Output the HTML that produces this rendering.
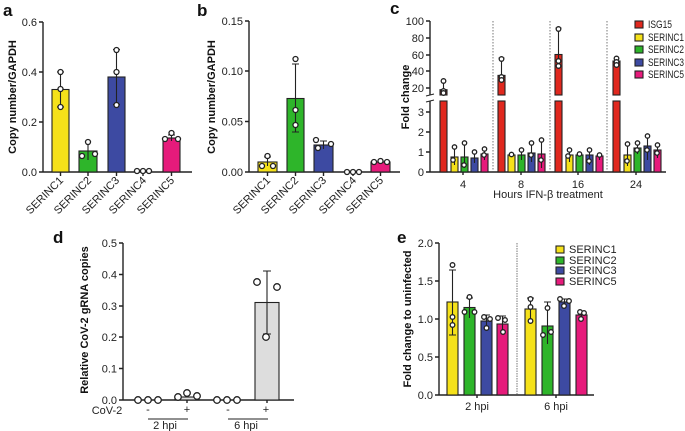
<!DOCTYPE html>
<html><head><meta charset="utf-8"><style>
body{margin:0;background:#fff}
svg{display:block;font-family:"Liberation Sans",Arial,sans-serif}
.t{font-size:11px;fill:#222}
.L{font-size:17px;font-weight:bold;fill:#111}
.yl{font-size:11px;font-weight:bold;fill:#111}
.ax{stroke:#222;stroke-width:1.4;fill:none}
.b{stroke:#222;stroke-width:1.1}
.e{stroke:#222;stroke-width:1.1;fill:none}
circle{fill:#fff;stroke:#222;stroke-width:1.3}
</style></head><body>
<svg width="685" height="431" viewBox="0 0 685 431">
<!-- Panel a -->
<text class="L" x="3" y="16">a</text>
<path class="ax" d="M43,22V172H192M39,22H43M39,72H43M39,122H43M39,172H43M60.5,172v4M88,172v4M116.5,172v4M143,172v4M171.5,172v4"/>
<g class="t" text-anchor="end"><text x="37" y="26">0.6</text><text x="37" y="76">0.4</text><text x="37" y="126">0.2</text><text x="37" y="176">0.0</text></g>
<text class="yl" transform="translate(16,97) rotate(-90)" text-anchor="middle">Copy number/GAPDH</text>
<rect class="b" x="52" y="89.5" width="17" height="82.5" fill="#f5e11a"/>
<rect class="b" x="79" y="151" width="18" height="21" fill="#2eb52a"/>
<rect class="b" x="108" y="77" width="17" height="95" fill="#3d4aa2"/>
<rect class="b" x="163" y="138" width="17" height="34" fill="#e61b7b"/>
<path class="e" d="M60.5,72V107M57,72h7M57,107h7M88,142V160M85,142h6M116.5,49.5V104.5M113,49.5h7M113,104.5h7M171.5,135V141M168,135h7"/>
<circle cx="60.5" cy="72" r="2.5"/><circle cx="60.5" cy="89" r="2.5"/><circle cx="60.5" cy="107" r="2.5"/>
<circle cx="88" cy="142" r="2.5"/><circle cx="82" cy="156" r="2.5"/><circle cx="95" cy="154" r="2.5"/>
<circle cx="116.5" cy="50" r="2.5"/><circle cx="116.5" cy="72" r="2.5"/><circle cx="116.5" cy="105" r="2.5"/>
<circle cx="137" cy="171" r="2.5"/><circle cx="143" cy="171" r="2.5"/><circle cx="149" cy="171" r="2.5"/>
<circle cx="171.5" cy="133" r="2.5"/><circle cx="165" cy="139" r="2.5"/><circle cx="178" cy="139" r="2.5"/>
<g class="t" text-anchor="end">
<text transform="translate(64,181) rotate(-45)">SERINC1</text>
<text transform="translate(92,181) rotate(-45)">SERINC2</text>
<text transform="translate(120,181) rotate(-45)">SERINC3</text>
<text transform="translate(147,181) rotate(-45)">SERINC4</text>
<text transform="translate(175,181) rotate(-45)">SERINC5</text></g>

<!-- Panel b -->
<text class="L" x="197" y="16">b</text>
<path class="ax" d="M249,21V172H400M245,21H249M245,71H249M245,121.5H249M245,172H249M267.5,172v4M295.5,172v4M323.5,172v4M353,172v4M380.5,172v4"/>
<g class="t" text-anchor="end"><text x="243" y="25">0.15</text><text x="243" y="75">0.10</text><text x="243" y="125.5">0.05</text><text x="243" y="176">0.00</text></g>
<text class="yl" transform="translate(215,97) rotate(-90)" text-anchor="middle">Copy number/GAPDH</text>
<rect class="b" x="258" y="162" width="19" height="10" fill="#f5e11a"/>
<rect class="b" x="287" y="98.5" width="17" height="73.5" fill="#2eb52a"/>
<rect class="b" x="314" y="145" width="19" height="27" fill="#3d4aa2"/>
<rect class="b" x="371" y="162" width="19" height="10" fill="#e61b7b"/>
<path class="e" d="M267.5,157V166M264,157h7M295.5,64V132M292,64h7M292,132h7M323.5,141V149M320,141h7"/>
<circle cx="267.5" cy="156" r="2.5"/><circle cx="262" cy="166" r="2.5"/><circle cx="273" cy="166" r="2.5"/>
<circle cx="295.5" cy="59" r="2.5"/><circle cx="295.5" cy="110" r="2.5"/><circle cx="295.5" cy="125" r="2.5"/>
<circle cx="316" cy="140" r="2.5"/><circle cx="331" cy="144" r="2.5"/><circle cx="318" cy="148" r="2.5"/>
<circle cx="347" cy="172" r="2.5"/><circle cx="353" cy="172" r="2.5"/><circle cx="359" cy="172" r="2.5"/>
<circle cx="374" cy="162" r="2.5"/><circle cx="380.5" cy="161" r="2.5"/><circle cx="387" cy="162" r="2.5"/>
<g class="t" text-anchor="end">
<text transform="translate(271,181) rotate(-45)">SERINC1</text>
<text transform="translate(299,181) rotate(-45)">SERINC2</text>
<text transform="translate(327,181) rotate(-45)">SERINC3</text>
<text transform="translate(357,181) rotate(-45)">SERINC4</text>
<text transform="translate(384,181) rotate(-45)">SERINC5</text></g>

<!-- Panel c -->
<text class="L" x="390" y="14">c</text>
<path class="ax" d="M430,21V95M430,101V172H666M426,21H430M426,38H430M426,55H430M426,71H430M426,88H430M426,112H430M426,132H430M426,152H430M426,172H430M463,172v3M521,172v3M578,172v3M636,172v3"/>
<path d="M426,96L434,94M426,102L434,100" stroke="#222" stroke-width="1"/>
<g class="t" text-anchor="end" font-size="11.5"><text x="424" y="25">100</text><text x="424" y="42">80</text><text x="424" y="59">60</text><text x="424" y="75">40</text><text x="424" y="92">20</text><text x="424" y="116">3</text><text x="424" y="136">2</text><text x="424" y="156">1</text><text x="424" y="176">0</text></g>
<text class="yl" transform="translate(409,97) rotate(-90)" text-anchor="middle">Fold change</text>
<path d="M493,21V172M550,21V172M607,21V172" stroke="#555" stroke-width="0.8" stroke-dasharray="1.5,1.5"/>
<g class="b" fill="#e0281e">
<rect x="440" y="89.7" width="7" height="5.3"/><rect x="440" y="101" width="7" height="71"/>
<rect x="498" y="75.4" width="7" height="19.6"/><rect x="498" y="101" width="7" height="71"/>
<rect x="555" y="54.5" width="7" height="40.5"/><rect x="555" y="101" width="7" height="71"/>
<rect x="613" y="61" width="7" height="34"/><rect x="613" y="101" width="7" height="71"/>
</g>
<path class="e" d="M443.5,81V93M501.5,58V80M498.5,58h6M558.5,28V66M555.5,28h6M616.5,58V64"/>
<circle cx="443.5" cy="81" r="2.3"/><circle cx="443.5" cy="91" r="2.3"/><circle cx="443.5" cy="93" r="2.3"/>
<circle cx="501.5" cy="59" r="2.3"/><circle cx="501.5" cy="77" r="2.3"/><circle cx="501.5" cy="80" r="2.3"/>
<circle cx="558.5" cy="29" r="2.3"/><circle cx="558.5" cy="61" r="2.3"/><circle cx="558.5" cy="66" r="2.3"/>
<circle cx="616.5" cy="58.5" r="2.3"/><circle cx="616.5" cy="62" r="2.3"/><circle cx="616.5" cy="65" r="2.3"/>
<g class="b">
<rect x="451" y="157" width="7" height="15" fill="#f5e11a"/><rect x="461" y="157" width="7" height="15" fill="#2eb52a"/><rect x="471" y="158" width="7" height="14" fill="#3d4aa2"/><rect x="481" y="154" width="7" height="18" fill="#e61b7b"/>
<rect x="508" y="155" width="7" height="17" fill="#f5e11a"/><rect x="518" y="155" width="7" height="17" fill="#2eb52a"/><rect x="528" y="153" width="7" height="19" fill="#3d4aa2"/><rect x="538" y="154" width="7" height="18" fill="#e61b7b"/>
<rect x="566" y="155" width="7" height="17" fill="#f5e11a"/><rect x="576" y="155" width="7" height="17" fill="#2eb52a"/><rect x="586" y="155" width="7" height="17" fill="#3d4aa2"/><rect x="596" y="156" width="7" height="16" fill="#e61b7b"/>
<rect x="624" y="155" width="7" height="17" fill="#f5e11a"/><rect x="634" y="148" width="7" height="24" fill="#2eb52a"/><rect x="644" y="146" width="7" height="26" fill="#3d4aa2"/><rect x="654" y="150" width="7" height="22" fill="#e61b7b"/>
</g>
<path class="e" d="M454.5,147V165M464.5,143V168M474.5,151V163M484.5,148V160M521.5,150V160M531.5,143V162M541.5,140V168M569.5,150V162M589.5,150V165M599.5,155V160M627.5,144V166M637.5,142V154M647.5,136V160M657.5,144V158"/>
<g>
<circle cx="454.5" cy="147" r="2.2"/><circle cx="453" cy="160" r="2.2"/><circle cx="464.5" cy="143" r="2.2"/><circle cx="464" cy="165" r="2.2"/><circle cx="474.5" cy="152" r="2.2"/><circle cx="484.5" cy="149" r="2.2"/><circle cx="484" cy="155" r="2.2"/>
<circle cx="511.5" cy="154.5" r="2.2"/><circle cx="521.5" cy="150" r="2.2"/><circle cx="531.5" cy="143" r="2.2"/><circle cx="531" cy="155" r="2.2"/><circle cx="541.5" cy="140" r="2.2"/><circle cx="541" cy="160" r="2.2"/>
<circle cx="569.5" cy="150" r="2.2"/><circle cx="568" cy="156" r="2.2"/><circle cx="579.5" cy="154" r="2.2"/><circle cx="589.5" cy="150" r="2.2"/><circle cx="589" cy="161" r="2.2"/><circle cx="599.5" cy="155" r="2.2"/>
<circle cx="627.5" cy="144" r="2.2"/><circle cx="627" cy="161" r="2.2"/><circle cx="637.5" cy="143" r="2.2"/><circle cx="637" cy="150" r="2.2"/><circle cx="647.5" cy="136" r="2.2"/><circle cx="647" cy="150" r="2.2"/><circle cx="657.5" cy="145" r="2.2"/><circle cx="657" cy="153" r="2.2"/>
</g>
<g class="t" text-anchor="middle" font-size="11.5"><text x="463" y="188">4</text><text x="521" y="188">8</text><text x="578" y="188">16</text><text x="636" y="188">24</text><text x="548" y="198">Hours IFN-β treatment</text></g>
<g class="b"><rect x="635" y="21" width="8" height="7" fill="#e0281e"/><rect x="635" y="34" width="8" height="7" fill="#f5e11a"/><rect x="635" y="46" width="8" height="7" fill="#2eb52a"/><rect x="635" y="59" width="8" height="7" fill="#3d4aa2"/><rect x="635" y="71" width="8" height="7" fill="#e61b7b"/></g>
<g class="t" font-size="9"><text x="648" y="28" textLength="24" lengthAdjust="spacingAndGlyphs">ISG15</text><text x="648" y="41" textLength="36" lengthAdjust="spacingAndGlyphs">SERINC1</text><text x="648" y="53" textLength="36" lengthAdjust="spacingAndGlyphs">SERINC2</text><text x="648" y="66" textLength="36" lengthAdjust="spacingAndGlyphs">SERINC3</text><text x="648" y="78" textLength="36" lengthAdjust="spacingAndGlyphs">SERINC5</text></g>

<!-- Panel d -->
<text class="L" x="53" y="243">d</text>
<path class="ax" d="M123,243V400H294M119,243H123M119,274.5H123M119,306H123M119,337H123M119,368.5H123M119,400H123M148,400v3M187,400v3M228,400v3M267,400v3"/>
<g class="t" text-anchor="end"><text x="117" y="247">0.5</text><text x="117" y="278.5">0.4</text><text x="117" y="310">0.3</text><text x="117" y="341">0.2</text><text x="117" y="372.5">0.1</text><text x="117" y="404">0.0</text></g>
<text class="yl" font-size="10.5" transform="translate(88,320) rotate(-90)" text-anchor="middle">Relative CoV-2 gRNA copies</text>
<rect class="b" x="175" y="397" width="24" height="3" fill="#ddd"/>
<rect class="b" x="255" y="302.5" width="24" height="97.5" fill="#ddd"/>
<path class="e" d="M267,271V334M263,271h8M263,334h8"/>
<g><circle cx="138" cy="400" r="3.3"/><circle cx="148" cy="400" r="3.3"/><circle cx="158" cy="400" r="3.3"/>
<circle cx="178" cy="397" r="3.3"/><circle cx="187" cy="393" r="3.3"/><circle cx="197" cy="396" r="3.3"/>
<circle cx="217" cy="400" r="3.3"/><circle cx="227" cy="400" r="3.3"/><circle cx="237" cy="400" r="3.3"/>
<circle cx="257" cy="282" r="3.3"/><circle cx="266" cy="337" r="3.3"/><circle cx="277" cy="287" r="3.3"/></g>
<g class="t" font-size="10" text-anchor="middle"><text x="107" y="414">CoV-2</text><text x="148" y="413">-</text><text x="187" y="413">+</text><text x="228" y="413">-</text><text x="266" y="413">+</text><text x="165" y="429">2 hpi</text><text x="246" y="429">6 hpi</text></g>
<path d="M148,419H188M228,419H268" stroke="#222" stroke-width="1"/>

<!-- Panel e -->
<text class="L" x="397" y="243">e</text>
<path class="ax" d="M439,243V395H594M435,243H439M435,281H439M435,319H439M435,357H439M435,395H439M477,395v3M556,395v3"/>
<g class="t" text-anchor="end"><text x="433" y="247">2.0</text><text x="433" y="285">1.5</text><text x="433" y="323">1.0</text><text x="433" y="361">0.5</text><text x="433" y="399">0.0</text></g>
<text class="yl" font-size="10.5" transform="translate(411,319) rotate(-90)" text-anchor="middle">Fold change to uninfected</text>
<path d="M517,243V395" stroke="#777" stroke-width="1" stroke-dasharray="1.5,1"/>
<g class="b">
<rect x="447" y="302" width="11" height="93" fill="#f5e11a"/><rect x="464" y="307.5" width="11" height="87.5" fill="#2eb52a"/><rect x="481" y="321" width="11" height="74" fill="#3d4aa2"/><rect x="497" y="324" width="11" height="71" fill="#e61b7b"/>
<rect x="525" y="309" width="11" height="86" fill="#f5e11a"/><rect x="542" y="326" width="11" height="69" fill="#2eb52a"/><rect x="559" y="302" width="11" height="93" fill="#3d4aa2"/><rect x="576" y="315" width="11" height="80" fill="#e61b7b"/>
</g>
<path class="e" d="M452.5,270V335M449,270h7M449,335h7M469.5,298V318M466,298h7M486.5,315V328M483,315h7M502.5,316V331M499,316h7M530.5,298V320M527,298h7M547.5,302V344M544,302h7M564.5,299V306M561,299h7M581.5,311V319M578,311h7"/>
<g><circle cx="452.5" cy="265" r="2.3"/><circle cx="452.5" cy="317" r="2.3"/><circle cx="452.5" cy="325" r="2.3"/>
<circle cx="469.5" cy="297" r="2.3"/><circle cx="464.5" cy="312" r="2.3"/><circle cx="474.5" cy="312" r="2.3"/>
<circle cx="484" cy="317" r="2.3"/><circle cx="490" cy="319" r="2.3"/><circle cx="486.5" cy="328" r="2.3"/>
<circle cx="498" cy="318" r="2.3"/><circle cx="505" cy="320" r="2.3"/><circle cx="503" cy="332" r="2.3"/>
<circle cx="530.5" cy="299" r="2.3"/><circle cx="530.5" cy="307" r="2.3"/><circle cx="530.5" cy="321" r="2.3"/>
<circle cx="547.5" cy="308" r="2.3"/><circle cx="543" cy="335" r="2.3"/><circle cx="551" cy="332" r="2.3"/>
<circle cx="560" cy="299" r="2.3"/><circle cx="569" cy="301" r="2.3"/><circle cx="564" cy="306" r="2.3"/>
<circle cx="580" cy="312" r="2.3"/><circle cx="584" cy="313" r="2.3"/><circle cx="581" cy="319" r="2.3"/></g>
<g class="t" text-anchor="middle" font-size="11.5"><text x="477" y="410">2 hpi</text><text x="556" y="410">6 hpi</text></g>
<g class="b"><rect x="556" y="246" width="8" height="7" fill="#f5e11a"/><rect x="556" y="257" width="8" height="7" fill="#2eb52a"/><rect x="556" y="267" width="8" height="7" fill="#3d4aa2"/><rect x="556" y="278" width="8" height="7" fill="#e61b7b"/></g>
<g class="t" font-size="9"><text x="569" y="253">SERINC1</text><text x="569" y="264">SERINC2</text><text x="569" y="274">SERINC3</text><text x="569" y="285">SERINC5</text></g>
</svg>
</body></html>
